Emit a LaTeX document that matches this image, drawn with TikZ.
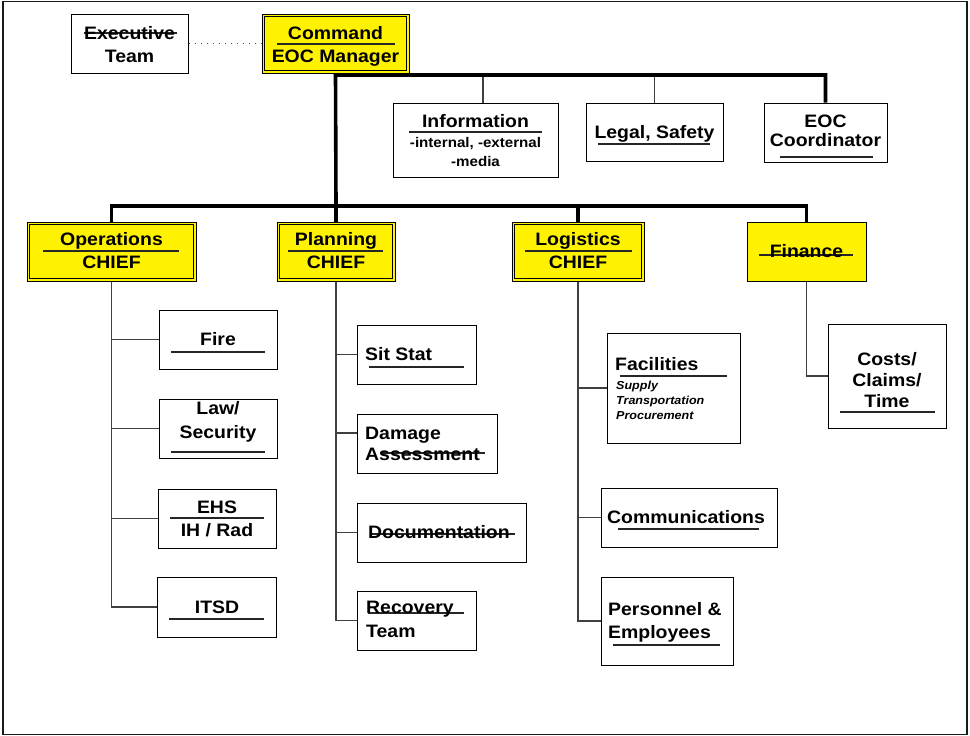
\documentclass[tikz,border=0pt]{standalone}
\usepackage{fontspec}
\setmainfont{Liberation Sans}[FakeStretch=1.08]
\usetikzlibrary{fit}
\begin{document}
\begin{tikzpicture}[x=1pt,y=-1pt,
  box/.style={draw=black, line width=1pt, fill=white, inner sep=0pt},
  chief/.style={box, fill=yellow},
  thickc/.style={line width=3.6pt, black},
  thinc/.style={line width=1.3pt, black!75},
  rulel/.style={line width=1.1pt, black!85},
  mt/.style={font=\bfseries\fontsize{18}{20}\selectfont, inner sep=0pt, anchor=base},
  mtl/.style={mt, anchor=base west},
  st/.style={font=\bfseries\fontsize{14}{16}\selectfont, inner sep=0pt, anchor=base},
  it/.style={font=\bfseries\itshape\fontsize{11.6}{13}\selectfont, inner sep=0pt, anchor=base west}]
\useasboundingbox (0,0) rectangle (970,736);
\draw[line width=1.8pt, black!90] (3,1.5) rectangle (967,734.5);

% ---------- boxes ----------
\node[box, fit={(71,14)(188,73)}] (exec) {};
\node[chief, fit={(262,14)(409,73)}] (cmd) {};
\node[box, fit={(393,103)(558,177)}] (info) {};
\node[box, fit={(586,103)(723,161)}] (legal) {};
\node[box, fit={(764,103)(887,162)}] (eoc) {};
\node[chief, fit={(27,222)(196,281)}] (ops) {};
\node[chief, fit={(277,222)(395,281)}] (plan) {};
\node[chief, fit={(512,222)(644,281)}] (log) {};
\node[chief, fit={(747,222)(866,281)}] (fin) {};
\node[box, fit={(159,310)(277,369)}] (fire) {};
\node[box, fit={(159,399)(277,458)}] (law) {};
\node[box, fit={(158,489)(276,548)}] (ehs) {};
\node[box, fit={(157,577)(276,637)}] (itsd) {};
\node[box, fit={(357,325)(476,384)}] (sit) {};
\node[box, fit={(357,414)(497,473)}] (dmg) {};
\node[box, fit={(357,503)(526,562)}] (doc) {};
\node[box, fit={(357,591)(476,650)}] (rec) {};
\node[box, fit={(607,333)(740,443)}] (fac) {};
\node[box, fit={(601,488)(777,547)}] (com) {};
\node[box, fit={(601,577)(733,665)}] (per) {};
\node[box, fit={(828,324)(946,428)}] (cost) {};

% inner borders of double-framed boxes
\foreach \n in {cmd,ops,plan,log}
  \draw[line width=1pt, black] ([shift={(3,3)}]\n.north west) rectangle ([shift={(-3,-3)}]\n.south east);

% ---------- connectors ----------
\coordinate (busA) at (336,75);
\coordinate (busB) at (336,206);
\coordinate (infotap) at (483,75);
\draw[line width=1.1pt, black!70, dash pattern=on 1.2pt off 4.8pt] (exec.east) -- (cmd.west);
\draw[thinc] (infotap) -- (infotap |- info.north);
\draw[thinc] (legal.north |- busA) -- (legal.north);
\draw[thickc] (cmd.south) -- (busA) -| (eoc.north);
\draw[thickc] (cmd.south) -- (busB);
\draw[thickc] (ops.north) |- (busB) -| (fin.north);
\draw[thickc] (plan.north) -- (plan.north |- busB);
\draw[thickc] (log.north) -- (log.north |- busB);

\draw[thinc] (ops.south) |- (itsd.west);
\draw[thinc] (ops.south |- fire.west) -- (fire.west);
\draw[thinc] (ops.south |- law.west) -- (law.west);
\draw[thinc] (ops.south |- ehs.west) -- (ehs.west);

\coordinate (dmgtap) at (357,433);
\draw[thinc] (plan.south) |- (rec.west);
\draw[thinc] (plan.south |- sit.west) -- (sit.west);
\draw[thinc] (plan.south |- dmgtap) -- (dmgtap);
\draw[thinc] (plan.south |- doc.west) -- (doc.west);

\draw[thinc] (log.south) |- (per.west);
\draw[thinc] (log.south |- fac.west) -- (fac.west);
\draw[thinc] (log.south |- com.west) -- (com.west);

\draw[thinc] (fin.south) |- (cost.west);

% ---------- rules inside boxes ----------
\draw[rulel] (84,33) -- (177,33);
\draw[rulel] (277,44) -- (395,44);
\draw[rulel] (409,132) -- (542,132);
\draw[rulel] (598,144) -- (710,144);
\draw[rulel] (780,157) -- (873,157);
\draw[rulel] (43,251) -- (179,251);
\draw[rulel] (288,251) -- (383,251);
\draw[rulel] (525,251) -- (632,251);
\draw[rulel] (759,255) -- (853,255);
\draw[rulel] (171,352) -- (265,352);
\draw[rulel] (171,452) -- (265,452);
\draw[rulel] (170,518) -- (264,518);
\draw[rulel] (169,619) -- (264,619);
\draw[rulel] (369,367) -- (464,367);
\draw[rulel] (380,453) -- (485,453);
\draw[rulel] (370,534) -- (515,534);
\draw[rulel] (368,613) -- (464,613);
\draw[rulel] (620,376) -- (727,376);
\draw[rulel] (618,529) -- (759,529);
\draw[rulel] (613,645) -- (720,645);
\draw[rulel] (840,412) -- (935,412);

% ---------- texts ----------
\node[mt] (tex1) at (129.5,39) {Executive};
\node[mt] (tex2) at (129.5,62) {Team};
\node[mt] (tcm1) at (335.5,39) {Command};
\node[mt] (tcm2) at (335.5,62) {EOC Manager};
\node[mt] (tin1) at (475.5,127) {Information};
\node[st] (tin2) at (475.5,147) {-internal, -external};
\node[st] (tin3) at (475.5,166) {-media};
\node[mt] (tlg) at (654.5,138) {Legal, Safety};
\node[mt] (teo1) at (825.5,127) {EOC};
\node[mt] (teo2) at (825.5,146) {Coordinator};
\node[mt] (top1) at (111.5,245) {Operations};
\node[mt] (top2) at (111.5,268) {CHIEF};
\node[mt] (tpl1) at (336,245) {Planning};
\node[mt] (tpl2) at (336,268) {CHIEF};
\node[mt] (tlo1) at (578,245) {Logistics};
\node[mt] (tlo2) at (578,268) {CHIEF};
\node[mt] (tfi) at (806.5,257) {Finance};
\node[mt] (tfr) at (218,345) {Fire};
\node[mt] (tlw1) at (218,414) {Law/};
\node[mt] (tlw2) at (218,438) {Security};
\node[mt] (teh1) at (217,513) {EHS};
\node[mt] (teh2) at (217,536) {IH / Rad};
\node[mt] (tit) at (217,613) {ITSD};
\node[mtl] (tss) at (365,360) {Sit Stat};
\node[mtl] (tdm1) at (365,439) {Damage};
\node[mtl] (tdm2) at (365,460) {Assessment};
\node[mtl] (tdc) at (368,538) {Documentation};
\node[mtl] (trc1) at (366,613) {Recovery};
\node[mtl] (trc2) at (366,637) {Team};
\node[mtl] (tfa) at (615,370) {Facilities};
\node[it] (tfa2) at (616,389) {Supply};
\node[it] (tfa3) at (616,404) {Transportation};
\node[it] (tfa4) at (616,419) {Procurement};
\node[mtl] (tco) at (607,523) {Communications};
\node[mtl] (tpe1) at (608,615) {Personnel \&};
\node[mtl] (tpe2) at (608,638) {Employees};
\node[mt] (tcs1) at (887,365) {Costs/};
\node[mt] (tcs2) at (887,386) {Claims/};
\node[mt] (tcs3) at (887,407) {Time};
\end{tikzpicture}
\end{document}
